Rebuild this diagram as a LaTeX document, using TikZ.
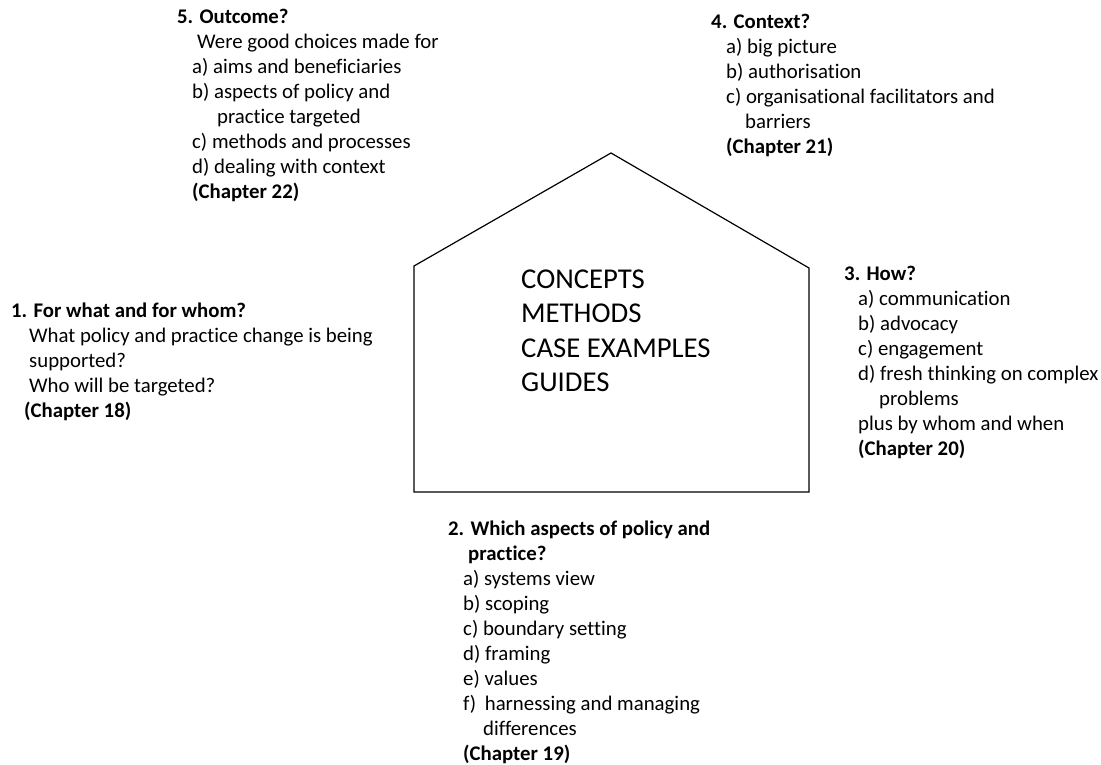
\documentclass[tikz,border=0pt]{standalone}
\usepackage{fontspec}
\setmainfont[Ligatures=NoCommon]{Carlito}
\begin{document}
\begin{tikzpicture}[x=1pt,y=-1pt,
  txt/.style={anchor=base west, inner sep=0pt, font=\fontsize{20.8}{25}\selectfont},
  big/.style={anchor=base west, inner sep=0pt, font=\fontsize{28.7}{34.5}\selectfont},
  house/.style={draw=black, line width=1.2pt, line join=miter}]
\useasboundingbox (0,0) rectangle (1101,765);
% house
\coordinate (bl) at (414,492);
\coordinate (br) at (809,492);
\coordinate (tr) at (809,268);
\coordinate (ap) at (611,153);
\coordinate (tl) at (414,266);
\draw[house] (bl) -- (br) -- (tr) -- (ap) -- (tl) -- cycle;
\node[big] (centre) at (521,288) {\begin{tabular}[t]{@{}l@{}}CONCEPTS\\METHODS\\CASE EXAMPLES\\GUIDES\end{tabular}};
% 5
\node[txt] (outcome) at (177,24) {\begin{tabular}[t]{@{}l@{}}\textbf{5. Outcome?}\\
\hspace*{20pt}Were good choices made for\\
\hspace*{15pt}a) aims and beneficiaries\\
\hspace*{15pt}b) aspects of policy and\\
\hspace*{40pt}practice targeted\\
\hspace*{15pt}c) methods and processes\\
\hspace*{15pt}d) dealing with context\\
\hspace*{15pt}\textbf{(Chapter 22)}\end{tabular}};
% 4
\node[txt] (context) at (711,29) {\begin{tabular}[t]{@{}l@{}}\textbf{4. Context?}\\
\hspace*{15pt}a) big picture\\
\hspace*{15pt}b) authorisation\\
\hspace*{15pt}c) organisational facilitators and\\
\hspace*{34pt}barriers\\
\hspace*{15pt}\textbf{(Chapter 21)}\end{tabular}};
% 1
\node[txt] (forwhat) at (11,317) {\begin{tabular}[t]{@{}l@{}}\textbf{1. For what and for whom?}\\
\hspace*{18pt}What policy and practice change is being\\
\hspace*{18pt}supported?\\
\hspace*{18pt}Who will be targeted?\\
\hspace*{13pt}\textbf{(Chapter 18)}\end{tabular}};
% 3
\node[txt] (how) at (844,280) {\begin{tabular}[t]{@{}l@{}}\textbf{3. How?}\\
\hspace*{14pt}a) communication\\
\hspace*{14pt}b) advocacy\\
\hspace*{14pt}c) engagement\\
\hspace*{14pt}d) fresh thinking on complex\\
\hspace*{35pt}problems\\
\hspace*{14pt}plus by whom and when\\
\hspace*{14pt}\textbf{(Chapter 20)}\end{tabular}};
% 2
\node[txt] (which) at (448,535) {\begin{tabular}[t]{@{}l@{}}\textbf{2. Which aspects of policy and}\\
\hspace*{20pt}\textbf{practice?}\\
\hspace*{15pt}a) systems view\\
\hspace*{15pt}b) scoping\\
\hspace*{15pt}c) boundary setting\\
\hspace*{15pt}d) framing\\
\hspace*{15pt}e) values\\
\hspace*{15pt}f)\hspace{4pt} harnessing and managing\\
\hspace*{35pt}differences\\
\hspace*{15pt}\textbf{(Chapter 19)}\end{tabular}};
\end{tikzpicture}
\end{document}
